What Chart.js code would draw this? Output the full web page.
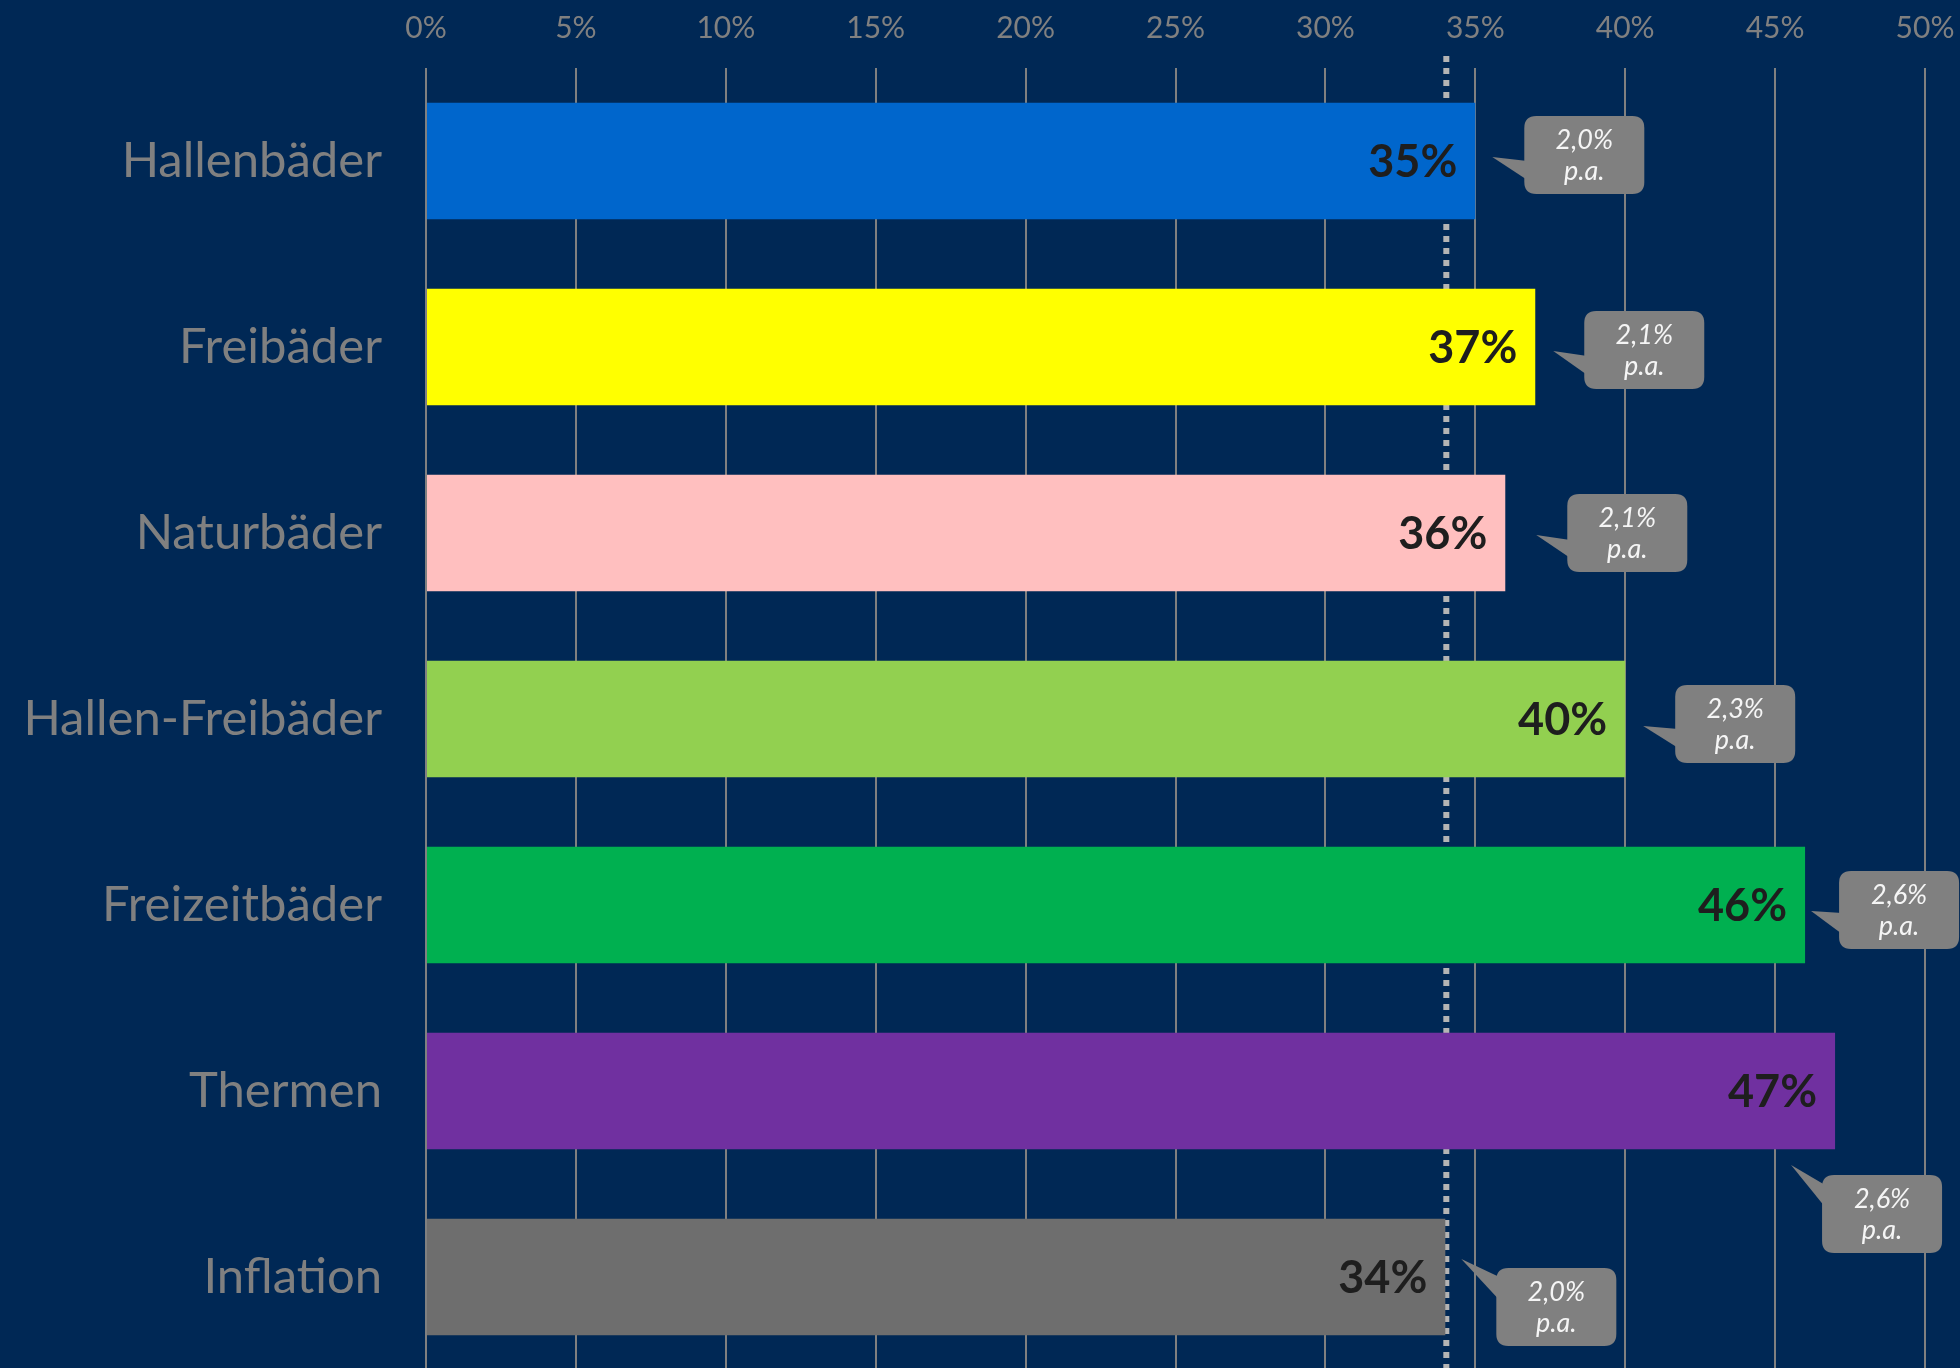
<!DOCTYPE html>
<html>
<head>
<meta charset="utf-8">
<script src="https://cdn.jsdelivr.net/npm/chart.js@4.4.0/dist/chart.umd.min.js"></script>
<style>
html, body { margin: 0; padding: 0; background: #002855; overflow: hidden; }
canvas { display: block; }
</style>
</head>
<body>
<canvas id="chart" width="1960" height="1370"></canvas>
<script>
var categories = ["Hallenbäder", "Freibäder", "Naturbäder", "Hallen-Freibäder", "Freizeitbäder", "Thermen", "Inflation"];
var growth = [35, 37, 36, 40, 46, 47, 34];
var perYear = [2.0, 2.1, 2.1, 2.3, 2.6, 2.6, 2.0];
var xTicks = [0, 5, 10, 15, 20, 25, 30, 35, 40, 45, 50];
var barColors = ["#0066cc", "#ffff00", "#ffbfbf", "#92d050", "#00b050", "#7030a0", "#6e6e6e"];

// callout placement, px relative to the bar end (x) and bar centre (y)
var calloutBox = [[49, -45], [49, -36], [62, -39], [50, -34], [34, -34], [-13, 84], [51, -9]];
var calloutTip = [[17, -4], [18, 4], [31, 2], [18, 7], [6, 6], [-44, 74], [16, -18]];
var calloutBase = [[45, 64], [45, 64], [46, 64], [44, 63], [42, 63], [10, 32], [9, 32]];

function roundRect(ctx, x, y, w, h, r) {
	ctx.beginPath();
	ctx.moveTo(x + r, y);
	ctx.lineTo(x + w - r, y);
	ctx.quadraticCurveTo(x + w, y, x + w, y + r);
	ctx.lineTo(x + w, y + h - r);
	ctx.quadraticCurveTo(x + w, y + h, x + w - r, y + h);
	ctx.lineTo(x + r, y + h);
	ctx.quadraticCurveTo(x, y + h, x, y + h - r);
	ctx.lineTo(x, y + r);
	ctx.quadraticCurveTo(x, y, x + r, y);
	ctx.closePath();
}

var overlay = {
	id: 'overlay',
	beforeDatasetsDraw: function(chart) {
		// dotted reference line at the inflation value
		var ctx = chart.ctx;
		var x = chart.scales.x.getPixelForValue(growth[6]) + 1;
		ctx.save();
		ctx.strokeStyle = '#b4b4b4';
		ctx.lineWidth = 6;
		ctx.setLineDash([6, 6]);
		ctx.beginPath();
		ctx.moveTo(x, 56);
		ctx.lineTo(x, chart.height);
		ctx.stroke();
		ctx.restore();
	},
	afterDatasetsDraw: function(chart) {
		var ctx = chart.ctx;
		var bars = chart.getDatasetMeta(0).data;
		ctx.save();
		bars.forEach(function(bar, i) {
			// value inside the bar
			ctx.fillStyle = '#1e1e1e';
			ctx.font = 'bold 45px Lato';
			ctx.textAlign = 'right';
			ctx.textBaseline = 'alphabetic';
			ctx.fillText(growth[i] + '%', bar.x - 18, bar.y + 16);

			// speech bubble with the yearly rate
			var bx = bar.x + calloutBox[i][0];
			var by = bar.y + calloutBox[i][1];
			ctx.fillStyle = '#808080';
			roundRect(ctx, bx, by, 120, 78, 12);
			ctx.fill();
			ctx.beginPath();
			ctx.moveTo(bar.x + calloutTip[i][0], bar.y + calloutTip[i][1]);
			ctx.lineTo(bx + 3, by + calloutBase[i][0]);
			ctx.lineTo(bx + 3, by + calloutBase[i][1]);
			ctx.closePath();
			ctx.fill();

			ctx.fillStyle = '#f5f5f5';
			ctx.font = 'italic 27px Lato';
			ctx.textAlign = 'center';
			ctx.fillText(perYear[i].toFixed(1).replace('.', ',') + '%', bx + 60, by + 33);
			ctx.fillText('p.a.', bx + 60, by + 64);
		});
		ctx.restore();
	}
};

var ctx = document.getElementById('chart');
var myChart = new Chart(ctx, {
	type: 'bar',
	data: {
		labels: categories,
		datasets: [{
			data: growth,
			backgroundColor: barColors,
			borderWidth: 0,
			barPercentage: 0.626,
			categoryPercentage: 1
		}]
	},
	options: {
		indexAxis: 'y',
		responsive: false,
		animation: false,
		layout: { padding: { left: 0, right: 35, top: 0, bottom: 0 } },
		plugins: { legend: { display: false }, tooltip: { enabled: false } },
		scales: {
			x: {
				position: 'top',
				min: 0,
				max: 50,
				afterBuildTicks: function(s) { s.ticks = xTicks.map(function(v) { return { value: v }; }); },
				afterFit: function(s) { s.height = 68; s.paddingLeft = 0; s.paddingRight = 0; },
				grid: { color: '#808080', lineWidth: 2, drawTicks: false },
				border: { display: false },
				ticks: {
					color: '#808080',
					font: { family: 'Lato', size: 30 },
					padding: 22,
					maxRotation: 0,
					callback: function(v) { return v + '%'; }
				}
			},
			y: {
				afterFit: function(s) { s.width = 426; s.paddingTop = 0; s.paddingBottom = 0; },
				grid: { display: false },
				border: { display: false },
				ticks: {
					color: '#808080',
					font: { family: 'Lato', size: 49 },
					padding: 36
				}
			}
		}
	},
	plugins: [overlay]
});
</script>
</body>
</html>
